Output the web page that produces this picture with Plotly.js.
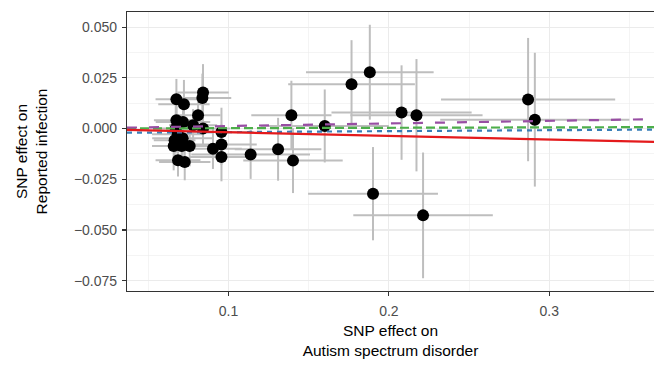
<!DOCTYPE html>
<html>
<head>
<meta charset="utf-8">
<script src="https://cdn.plot.ly/plotly-3.0.1.min.js"></script>
<style>html,body{margin:0;padding:0;background:#fff;}#chart{width:654px;height:368px;}</style>
</head>
<body>
<div id="chart"></div>
<script>
// SNP effects on exposure (Autism spectrum disorder)
const snpX = [0.0675, 0.0722, 0.0841, 0.0837, 0.0810, 0.0675, 0.0716, 0.0779, 0.0841, 0.0956,
              0.0956, 0.0903, 0.0956, 0.0685, 0.0727, 0.0671, 0.0683, 0.0664, 0.0714, 0.0658,
              0.0708, 0.0758, 0.1138, 0.1309, 0.1402, 0.1392, 0.1600, 0.1767, 0.1881, 0.2079,
              0.2172, 0.1901, 0.2213, 0.2868, 0.2910];
// SNP effects on outcome (Reported infection)
const snpY = [0.0145, 0.0120, 0.0178, 0.0151, 0.0066, 0.0041, 0.0033, 0.0016, 0.0000, -0.0017,
              -0.0079, -0.0099, -0.0140, -0.0156, -0.0165, 0.0001, -0.0028, -0.0058, -0.0048, -0.0086,
              -0.0086, -0.0086, -0.0128, -0.0102, -0.0158, 0.0066, 0.0013, 0.0219, 0.0278, 0.0079,
              0.0066, -0.0321, -0.0428, 0.0143, 0.0044];
// standard errors (half-widths of the grey bars)
const seX = [0.013, 0.016, 0.016, 0.018, 0.014, 0.014, 0.017, 0.015, 0.017, 0.020,
             0.022, 0.018, 0.020, 0.014, 0.016, 0.014, 0.016, 0.013, 0.019, 0.0135,
             0.017, 0.015, 0.037, 0.027, 0.031, 0.025, 0.040, 0.0395, 0.0398, 0.0437,
             0.0412, 0.0405, 0.0435, 0.0543, 0.059];
const seY = [0.010, 0.012, 0.014, 0.012, 0.009, 0.010, 0.009, 0.008, 0.008, 0.012,
             0.010, 0.010, 0.012, 0.008, 0.009, 0.012, 0.010, 0.010, 0.009, 0.012,
             0.010, 0.010, 0.012, 0.0155, 0.016, 0.017, 0.018, 0.0217, 0.0234, 0.0233,
             0.0277, 0.023, 0.031, 0.0304, 0.033];

// MR method fit lines
const methodNames = ["Weighted median", "MR Egger", "Weighted mode", "Inverse variance weighted"];
const methodSlopes = [0.0047, 0.002, 0.0127, -0.018];
const methodIntercepts = [-0.0022, 0.0, 0.0, 0.0];
const methodColors = ["#377EB8", "#4DAF4A", "#984EA3", "#E41A1C"];
const methodDash = ["5px,5px", "9px,4px", "10px,12px", "solid"];

const xRange = [0.0367, 0.3653];
const yRange = [-0.0801, 0.0575];

const traces = [{
  type: "scatter", mode: "markers",
  x: snpX, y: snpY,
  error_x: {type: "data", array: seX, visible: true, color: "#BEBEBE", thickness: 2, width: 0},
  error_y: {type: "data", array: seY, visible: true, color: "#BEBEBE", thickness: 2, width: 0},
  marker: {color: "#000000", size: 12, line: {width: 0}},
  showlegend: false, hoverinfo: "skip"
}];
methodNames.forEach((n, i) => {
  traces.push({
    type: "scatter", mode: "lines", name: n,
    x: xRange,
    y: xRange.map(v => methodIntercepts[i] + methodSlopes[i] * v),
    line: {color: methodColors[i], width: 2.2, dash: methodDash[i]},
    showlegend: false, hoverinfo: "skip"
  });
});

const font = "Liberation Sans, Arial, Helvetica, sans-serif";
const axisCommon = {
  showgrid: true, gridcolor: "#EBEBEB", gridwidth: 1.1,
  zeroline: false, showline: true, linecolor: "#333333", linewidth: 1.1,
  ticks: "outside", ticklen: 4, tickwidth: 1.1, tickcolor: "#333333",
  tickfont: {family: font, size: 14, color: "#4D4D4D"}
};
const layout = {
  width: 654, height: 368,
  margin: {l: 127, r: 0, t: 12, b: 77},
  paper_bgcolor: "#FFFFFF", plot_bgcolor: "#FFFFFF",
  font: {family: font},
  showlegend: false,
  xaxis: Object.assign({}, axisCommon, {
    range: xRange, tick0: 0, dtick: 0.1, mirror: true, ticklabelstandoff: 3,
    minor: {dtick: 0.05, showgrid: true, gridcolor: "#EBEBEB", gridwidth: 0.55, ticks: ""},
    title: {text: "SNP effect on<br>Autism spectrum disorder", font: {family: font, size: 15.5, color: "#000000"}, standoff: 7}
  }),
  yaxis: Object.assign({}, axisCommon, {
    range: yRange, tick0: 0, dtick: 0.025, tickformat: ".3f", mirror: false, ticklabelstandoff: 2,
    minor: {dtick: 0.0125, showgrid: true, gridcolor: "#EBEBEB", gridwidth: 0.55, ticks: ""},
    title: {text: "SNP effect on<br>Reported infection", font: {family: font, size: 15.5, color: "#000000"}, standoff: 22}
  })
};
Plotly.newPlot("chart", traces, layout, {displayModeBar: false, staticPlot: true});
</script>
</body>
</html>
